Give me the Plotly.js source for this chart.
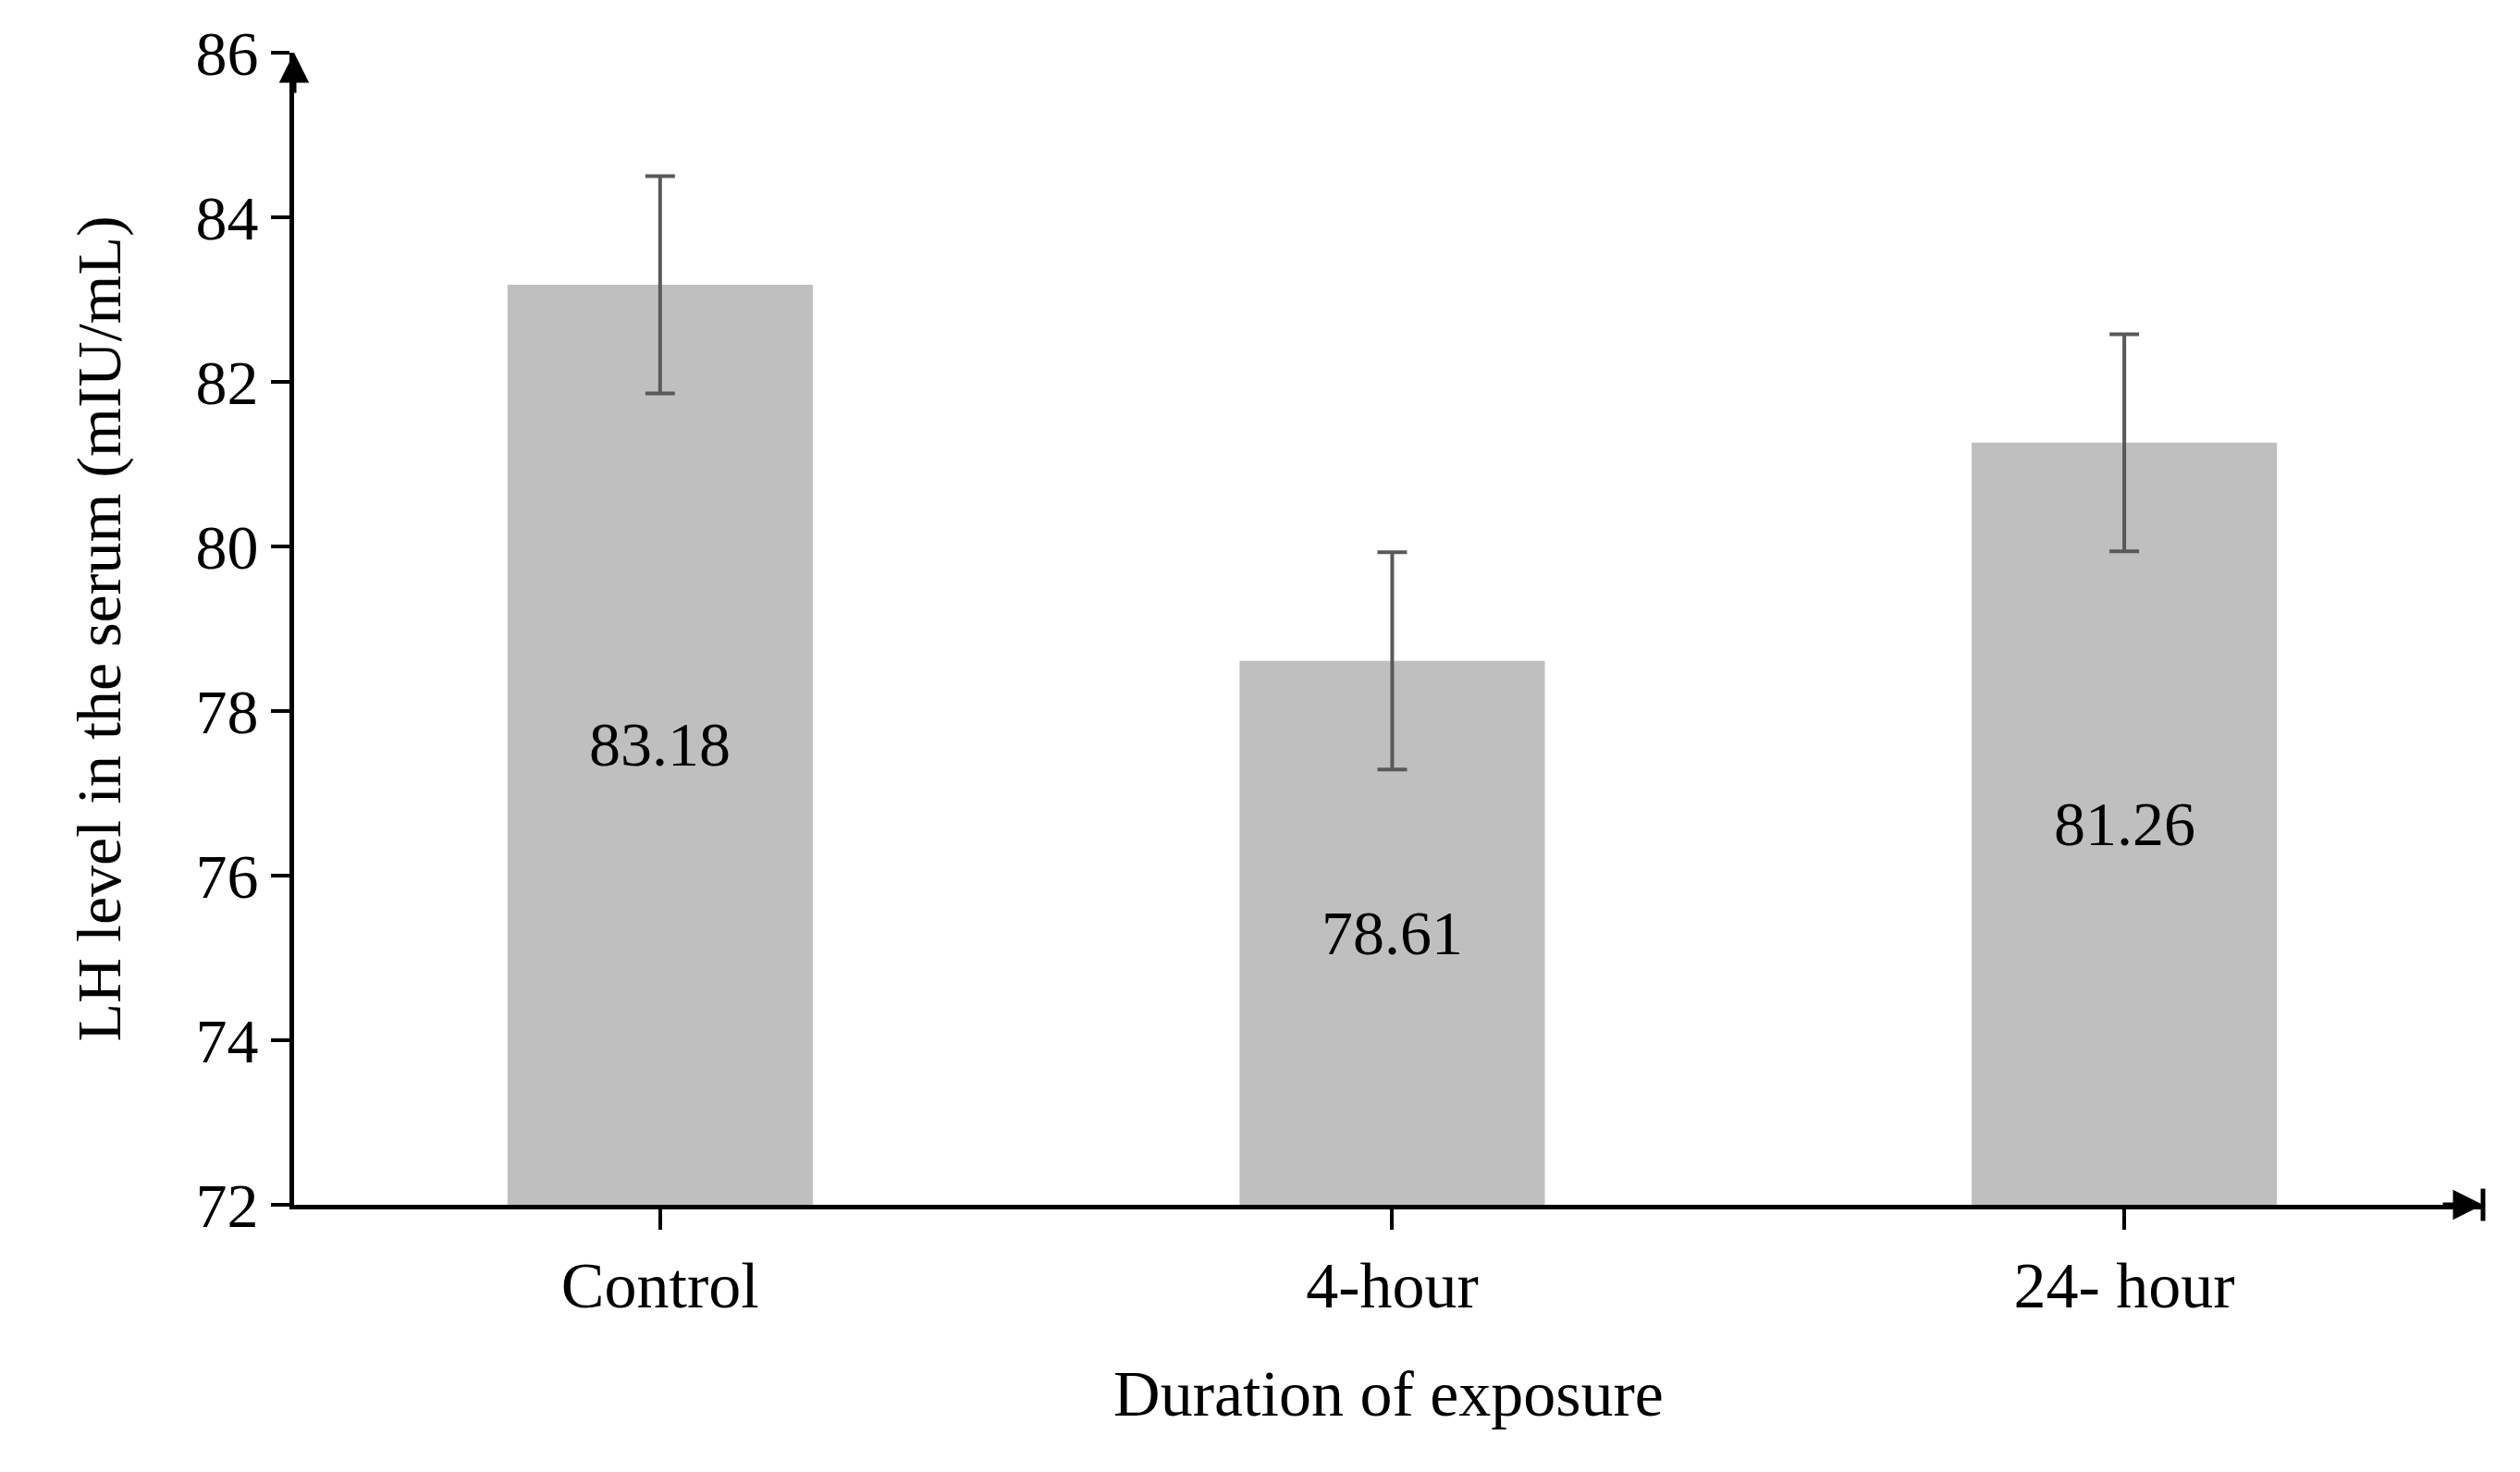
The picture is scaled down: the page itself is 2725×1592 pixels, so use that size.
<!DOCTYPE html>
<html><head><meta charset="utf-8">
<script src="https://cdn.plot.ly/plotly-3.0.1.min.js"></script>
<style>body{margin:0;background:#fff}</style>
</head><body><div id="c" style="width:2725px;height:1592px"></div>
<script>
const categories = ["Control", "4-hour", "24- hour"];
const values = [83.18, 78.61, 81.26];
const errors = [1.32, 1.32, 1.32];
const labels = ["83.18", "78.61", "81.26"];
const F = "Liberation Serif, Times New Roman, serif";
const Y0 = 72;
const valueAnns = categories.map((c, i) => ({
  x: c, xref: "x", y: (Y0 + values[i]) / 2, yref: "y", text: labels[i], showarrow: false,
  font: {family: F, size: 68, color: "#000"}
}));
Plotly.newPlot("c", [{
  type: "bar", x: categories, y: values,
  marker: {color: "#bfbfbf"}, width: 0.417,
  error_y: {type: "data", array: errors, visible: true, color: "#595959", thickness: 4, width: 16}
}], {
  width: 2725, height: 1592, margin: {l: 318, r: 40, t: 57, b: 289},
  paper_bgcolor: "#fff", plot_bgcolor: "#fff", showlegend: false,
  font: {family: F, size: 68, color: "#000"},
  xaxis: {range: [-0.5, 2.49], showline: true, linewidth: 5, linecolor: "#000",
    ticks: "outside", ticklen: 22, tickwidth: 4, tickcolor: "#000", showgrid: false,
    tickfont: {family: F, size: 70}, title: {text: "Duration of exposure", font: {family: F, size: 70}, standoff: 55}},
  yaxis: {range: [Y0, 86], dtick: 2, showline: true, linewidth: 5, linecolor: "#000",
    ticks: "outside", ticklen: 20, tickwidth: 4, tickcolor: "#000", showgrid: false, zeroline: false,
    tickfont: {family: F, size: 68}, title: {text: "LH level in the serum (mIU/mL)", font: {family: F, size: 68}, standoff: 60}},
  annotations: valueAnns.concat([
    {x: 0, xref: "paper", y: 86, yref: "y", ax: 0, ay: 45, showarrow: true, arrowhead: 2, arrowsize: 1.3, arrowwidth: 5, arrowcolor: "#000", text: ""},
    {x: 1, xref: "paper", y: Y0, yref: "y", ax: -45, ay: 0, showarrow: true, arrowhead: 2, arrowsize: 1.3, arrowwidth: 5, arrowcolor: "#000", text: ""}
  ]),
  shapes: [{type: "line", xref: "paper", yref: "paper", x0: 1, x1: 1, y0: -0.014, y1: 0.014, line: {color: "#000", width: 5}}]
}, {displayModeBar: false});
</script></body></html>
